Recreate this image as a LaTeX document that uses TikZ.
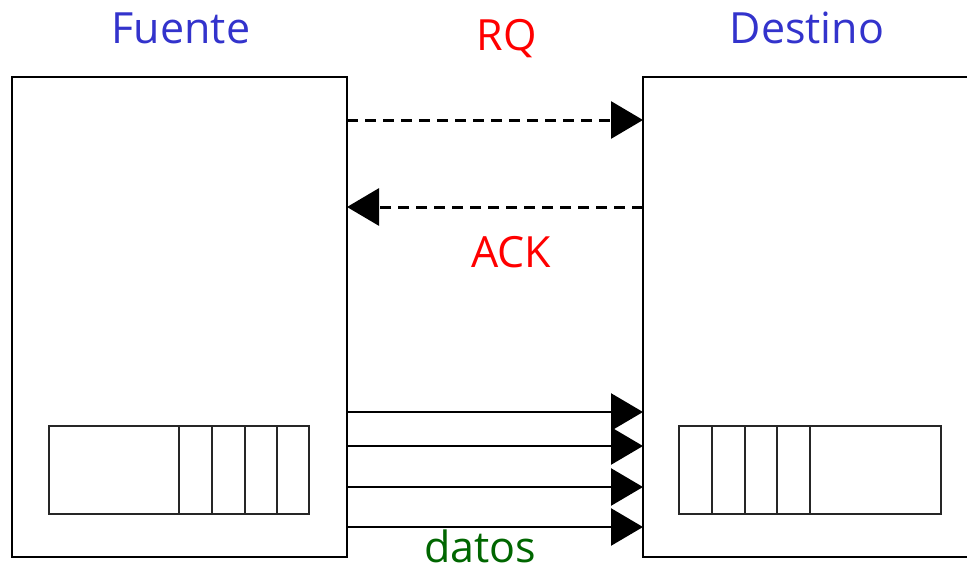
\documentclass[tikz,border=0pt]{standalone}
\usepackage{fontspec}
\setmainfont{Open Sans}
\usetikzlibrary{arrows.meta}
\definecolor{fblue}{RGB}{51,51,204}
\definecolor{fred}{RGB}{255,0,0}
\definecolor{fgreen}{RGB}{0,102,0}
\begin{document}
\begin{tikzpicture}[x=1pt,y=-1pt,
  hostbox/.style={draw=black,line width=1.6pt,inner sep=0pt,outer sep=0pt,anchor=north west},
  queuebox/.style={draw=black!85,line width=1.8pt,inner sep=0pt,outer sep=0pt,anchor=north west,minimum height=88pt},
  divider/.style={draw=black!85,line width=1.8pt},
  msg/.style={line width=2.6pt,-{Triangle[length=32pt,width=37pt]}},
  ctrl/.style={msg,line width=3pt,dash pattern=on 11pt off 7pt},
  lbl/.style={font=\fontsize{43}{50}\selectfont,anchor=base,inner sep=0pt}]
\useasboundingbox (0,0) rectangle (967,568);
% hosts
\node[hostbox,minimum width=335pt,minimum height=480pt] (src) at (12,77) {};
\node[hostbox,minimum width=345pt,minimum height=480pt] (dst) at (643,77) {};
% queues
\node[queuebox,minimum width=260pt] (sq) at (49,426) {};
\foreach \x in {179,212,245,277} \draw[divider] (\x,426) -- (\x,514);
\node[queuebox,minimum width=262pt] (dq) at (679,426) {};
\foreach \x in {712,745,777,810} \draw[divider] (\x,426) -- (\x,514);
% levels
\coordinate (rq) at (0,120);
\coordinate (ack) at (0,207);
\coordinate (d1) at (0,412);
\coordinate (d2) at (0,446);
\coordinate (d3) at (0,487);
\coordinate (d4) at (0,527);
% connectors
\draw[ctrl] (src.east |- rq) -- (dst.west |- rq);
\draw[ctrl] (dst.west |- ack) -- (src.east |- ack);
\draw[msg] (src.east |- d1) -- (dst.west |- d1);
\draw[msg] (src.east |- d2) -- (dst.west |- d2);
\draw[msg] (src.east |- d3) -- (dst.west |- d3);
\draw[msg] (src.east |- d4) -- (dst.west |- d4);
% labels
\node[lbl,text=fblue] (lsrc) at (181,43) {Fuente};
\node[lbl,text=fblue] (ldst) at (807,43) {Destino};
\node[lbl,text=fred] (lrq) at (507,50) {RQ};
\node[lbl,text=fred] (lack) at (511,267) {ACK};
\node[lbl,text=fgreen] (ldat) at (480,562) {datos};
\end{tikzpicture}
\end{document}
